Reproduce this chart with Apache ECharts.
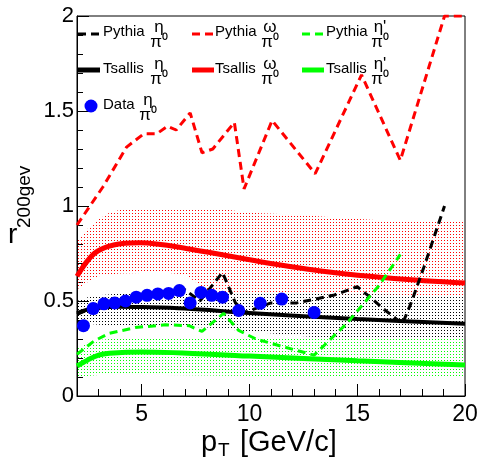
<!DOCTYPE html>
<html>
<head>
<meta charset="utf-8">
<script src="https://cdn.jsdelivr.net/npm/echarts@6/dist/echarts.min.js"></script>
<style>
html,body{margin:0;padding:0;background:#fff;}
#main{width:481px;height:466px;}
</style>
</head>
<body>
<div id="main"></div>
<script>
// data points (eta/pi0)
var dataPt = [2.3, 2.75, 3.25, 3.75, 4.25, 4.75, 5.25, 5.75, 6.25, 6.75, 7.25, 7.75, 8.25, 8.75, 9.5, 10.5, 11.5, 13];
var dataR  = [0.37, 0.46, 0.485, 0.49, 0.50, 0.52, 0.53, 0.537, 0.54, 0.555, 0.49, 0.545, 0.53, 0.52, 0.45, 0.488, 0.51, 0.44];

// pythia curves
var pyEtaPt = [2, 3, 4.2, 5.5, 7, 7.7, 8.75, 9.35, 9.8, 11, 12.2, 13.9, 15, 15.6, 16.2, 17.1, 17.5, 18.1, 19.05];
var pyEtaR  = [0.43, 0.48, 0.51, 0.53, 0.56, 0.50, 0.65, 0.49, 0.44, 0.49, 0.49, 0.53, 0.575, 0.52, 0.46, 0.38, 0.49, 0.68, 1.0];

var pyOmegaPt = [2, 3.2, 4.3, 5.1, 5.7, 6.2, 6.6, 7.25, 7.8, 8.3, 9.3, 9.75, 11.05, 13.05, 15.2, 17, 19.05, 20];
var pyOmegaR  = [0.9, 1.1, 1.31, 1.38, 1.38, 1.42, 1.40, 1.49, 1.28, 1.3, 1.44, 1.09, 1.45, 1.17, 1.69, 1.24, 2.0, 2.0];

var pyEtapPt = [2, 2.8, 3.5, 4.7, 6.1, 7.2, 7.8, 8.8, 9.5, 10.3, 11.7, 13, 14.5, 16, 17];
var pyEtapR  = [0.22, 0.29, 0.33, 0.36, 0.375, 0.37, 0.34, 0.435, 0.345, 0.30, 0.255, 0.215, 0.38, 0.58, 0.745];

// tsallis curves
var tsEtaPt = [2, 2.5, 3, 4, 5, 7, 10, 15, 20];
var tsEtaR  = [0.435, 0.455, 0.465, 0.47, 0.468, 0.46, 0.437, 0.405, 0.38];

var tsOmegaPt = [2, 2.8, 3.7, 4.9, 7.4, 10.5, 13.6, 16.7, 20];
var tsOmegaR  = [0.63, 0.75, 0.795, 0.807, 0.77, 0.707, 0.654, 0.619, 0.595];

var tsEtapPt = [2, 2.5, 3, 3.5, 5, 10, 15, 20];
var tsEtapR  = [0.158, 0.19, 0.215, 0.225, 0.232, 0.21, 0.185, 0.163];

// tsallis uncertainty bands
var bandOmegaPt = [2, 2.5, 3, 3.5, 4, 6, 7, 8, 9, 10, 12, 14, 16, 20];
var bandOmegaHi = [0.82, 0.88, 0.93, 0.965, 0.98, 0.985, 0.985, 0.98, 0.98, 0.965, 0.955, 0.94, 0.925, 0.92];
var bandOmegaLo = [0.56, 0.6, 0.63, 0.64, 0.645, 0.65, 0.64, 0.56, 0.45, 0.41, 0.405, 0.40, 0.40, 0.40];

var bandEtaPt = [2, 2.5, 3, 4, 6, 8, 10, 12, 14, 16, 18, 20];
var bandEtaHi = [0.50, 0.52, 0.53, 0.54, 0.545, 0.545, 0.54, 0.54, 0.535, 0.535, 0.53, 0.53];
var bandEtaLo = [0.39, 0.38, 0.375, 0.37, 0.37, 0.36, 0.34, 0.32, 0.30, 0.29, 0.28, 0.27];

var bandEtapPt = [2, 2.5, 3, 4, 6, 10, 14, 20];
var bandEtapHi = [0.25, 0.28, 0.295, 0.305, 0.31, 0.305, 0.305, 0.30];
var bandEtapLo = [0.10, 0.105, 0.11, 0.11, 0.11, 0.105, 0.10, 0.095];

// axis ticks
var xMajor = [5, 10, 15, 20];
var xMinor = [2, 3, 4, 5, 6, 7, 8, 9, 10, 11, 12, 13, 14, 15, 16, 17, 18, 19, 20];

var FONT = '"Liberation Sans", Arial, sans-serif';

function zip(xs, ys) {
	return xs.map(function (x, i) { return [x, ys[i]]; });
}

//点状填充
function dots(color) {
	var c = document.createElement('canvas');
	c.width = 3; c.height = 3;
	var g = c.getContext('2d');
	g.fillStyle = color;
	g.fillRect(0, 0, 1, 1);
	return { image: c, repeat: 'repeat' };
}

function band(xs, hi, lo, color) {
	var pat = dots(color);
	return {
		type: 'custom',
		silent: true,
		clip: true,
		z: 1,
		data: [[xs[0], lo[0]]],
		renderItem: function (params, api) {
			var pts = [];
			for (var i = 0; i < xs.length; i++) pts.push(api.coord([xs[i], hi[i]]));
			for (var j = xs.length - 1; j >= 0; j--) pts.push(api.coord([xs[j], lo[j]]));
			return { type: 'polygon', shape: { points: pts }, style: { fill: pat } };
		}
	};
}

function curve(xs, ys, color, width, dashed, smooth) {
	return {
		type: 'line',
		data: zip(xs, ys),
		showSymbol: false,
		symbol: 'none',
		smooth: smooth ? 0.35 : false,
		silent: true,
		z: dashed ? 4 : 3,
		lineStyle: { color: color, width: width, type: dashed ? [8, 5] : 'solid' }
	};
}

function txt(x, y, s, size, align) {
	return {
		type: 'text', x: x, y: y, z: 100,
		style: { text: s, fontSize: size, fontFamily: FONT, fill: '#000', align: align || 'left', verticalAlign: 'middle' }
	};
}

// legend layout
var colSample = [78, 192, 302];
var colText = [103, 215, 326];
var colFrac = [159, 270, 380];
var rowY = [32, 69, 105];
var legendItems = [
	{ col: 0, row: 0, label: 'Pythia', top: 'η', color: '#000', dashed: true },
	{ col: 1, row: 0, label: 'Pythia', top: 'ω', color: '#f00', dashed: true },
	{ col: 2, row: 0, label: 'Pythia', top: "η'", color: '#0f0', dashed: true },
	{ col: 0, row: 1, label: 'Tsallis', top: 'η', color: '#000', dashed: false },
	{ col: 1, row: 1, label: 'Tsallis', top: 'ω', color: '#f00', dashed: false },
	{ col: 2, row: 1, label: 'Tsallis', top: "η'", color: '#0f0', dashed: false }
];

function frac(cx, y, top) {
	return [txt(cx, y - 5, top, 17, 'center'), txt(cx, y + 10, 'π⁰', 17, 'center')];
}

var graphics = [];
legendItems.forEach(function (it) {
	var y = rowY[it.row];
	var ly = it.dashed ? y + 2 : y + 1;
	graphics.push({
		type: 'line', z: 100,
		shape: { x1: colSample[it.col], y1: ly, x2: colSample[it.col] + 22, y2: ly },
		style: { stroke: it.color, lineWidth: it.dashed ? 3 : 5, lineDash: it.dashed ? [8, 5] : null }
	});
	graphics.push(txt(colText[it.col], y, it.label, 15));
	graphics = graphics.concat(frac(colFrac[it.col], y, it.top));
});
graphics.push({ type: 'circle', z: 100, shape: { cx: 91, cy: 106, r: 6.5 }, style: { fill: '#00f' } });
graphics.push(txt(103, rowY[2], 'Data', 15));
graphics = graphics.concat(frac(148, rowY[2], 'η'));

// axis titles
graphics.push(txt(201, 443, 'p', 29));
graphics.push(txt(218, 451, 'T', 19));
graphics.push(txt(240, 443, '[GeV/c]', 29));
graphics.push(txt(8, 235, 'r', 28));
graphics.push({
	type: 'text', x: 25, y: 228, rotation: Math.PI / 2, z: 100,
	style: { text: '200gev', fontSize: 19, fontFamily: FONT, fill: '#000', align: 'left', verticalAlign: 'middle' }
});

var chart = echarts.init(document.getElementById('main'));
var option = {
	animation: false,
	backgroundColor: '#fff',
	grid: { left: 77, right: 16, top: 16, bottom: 70, show: true, borderColor: '#000', borderWidth: 1, backgroundColor: 'transparent' },
	xAxis: [
		{
			type: 'value', min: 2, max: 20, position: 'bottom',
			axisLine: { onZero: false, lineStyle: { color: '#000', width: 1 } },
			axisTick: { inside: true, length: 12, customValues: xMajor, lineStyle: { color: '#000' } },
			axisLabel: { customValues: xMajor, fontSize: 23, color: '#000', margin: 7, fontFamily: FONT },
			splitLine: { show: false }
		},
		{
			type: 'value', min: 2, max: 20, position: 'bottom',
			axisLine: { show: false, onZero: false },
			axisTick: { inside: true, length: 7, customValues: xMinor, lineStyle: { color: '#000' } },
			axisLabel: { show: false },
			splitLine: { show: false }
		}
	],
	yAxis: {
		type: 'value', min: 0, max: 2, interval: 0.5,
		axisLine: { show: true, lineStyle: { color: '#000', width: 1 } },
		axisTick: { inside: true, length: 12, lineStyle: { color: '#000' } },
		minorTick: { show: true, splitNumber: 5, length: 6, lineStyle: { color: '#000' } },
		axisLabel: { fontSize: 22, color: '#000', margin: 3, fontFamily: FONT },
		splitLine: { show: false },
		minorSplitLine: { show: false }
	},
	series: [
		band(bandOmegaPt, bandOmegaHi, bandOmegaLo, '#ff0000'),
		band(bandEtaPt, bandEtaHi, bandEtaLo, '#000000'),
		band(bandEtapPt, bandEtapHi, bandEtapLo, '#00ff00'),
		curve(tsOmegaPt, tsOmegaR, '#ff0000', 5, false, true),
		curve(tsEtaPt, tsEtaR, '#000000', 4, false, true),
		curve(tsEtapPt, tsEtapR, '#00ff00', 5, false, true),
		curve(pyOmegaPt, pyOmegaR, '#ff0000', 3, true, false),
		curve(pyEtaPt, pyEtaR, '#000000', 3, true, false),
		curve(pyEtapPt, pyEtapR, '#00ff00', 3, true, false),
		{
			type: 'scatter',
			data: zip(dataPt, dataR),
			symbol: 'circle',
			symbolSize: 13,
			silent: true,
			z: 5,
			itemStyle: { color: '#0000ff', opacity: 1 }
		}
	],
	graphic: graphics
};
chart.setOption(option);
</script>
</body>
</html>
